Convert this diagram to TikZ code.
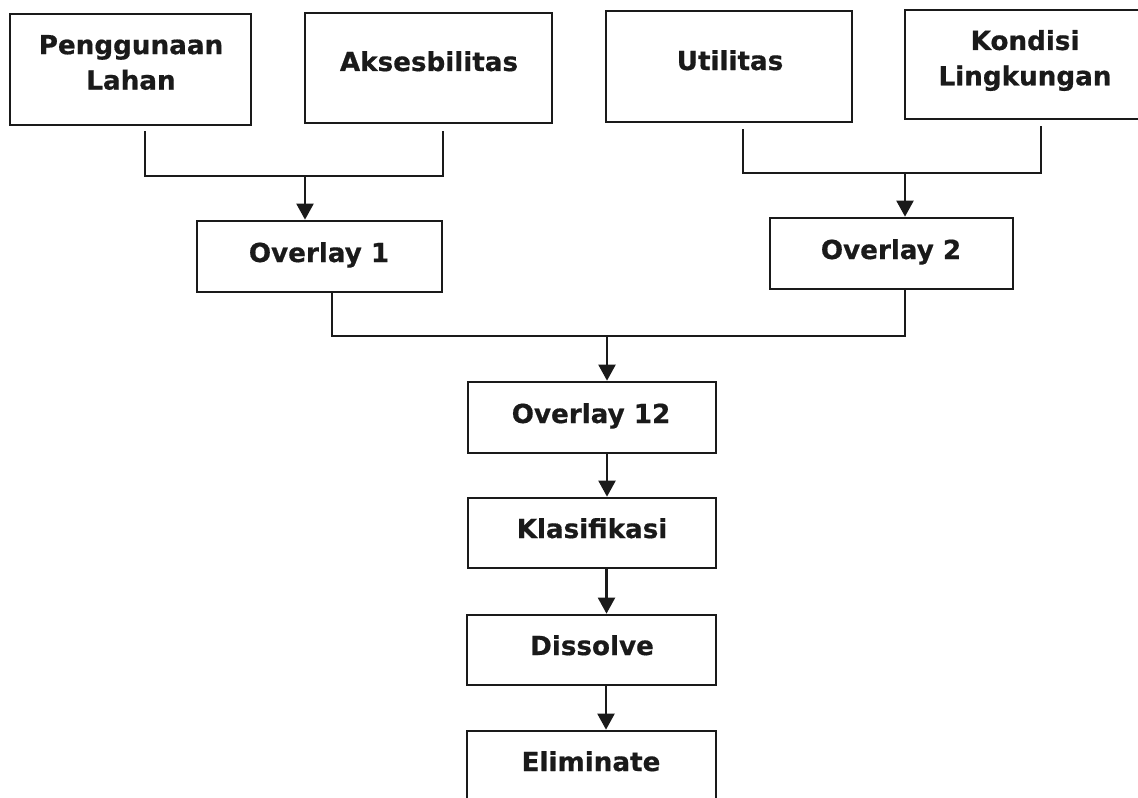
\documentclass[tikz,border=0pt]{standalone}
\usepackage{fontspec}
\setmainfont{DejaVu Sans}
\newfontfamily\lblfont{DejaVu Sans}[BoldFeatures={FakeBold=0.6}]
\usetikzlibrary{arrows.meta,calc}
\definecolor{ink}{HTML}{1A1A1A}
\begin{document}
\begin{tikzpicture}[x=0.5pt,y=-0.5pt,
  box/.style={draw=ink,line width=1.35pt,rectangle,inner sep=0pt},
  lbl/.style={inner sep=0pt,font=\lblfont\bfseries\fontsize{13.1}{17.7}\selectfont,text=ink,align=center},
  conn/.style={draw=ink,line width=1.1pt},
  arr/.style={conn,-{Triangle[length=8pt,width=8.5pt]}}]
\useasboundingbox (0,0) rectangle (1138,797);
\fill[white] (0,0) rectangle (1138,797);
\clip (0,0) rectangle (1138,797);
% boxes
\node[box,minimum width=120.5pt,minimum height=55.5pt] (pl) at (130.5,69.5) {};
\node[box,minimum width=123.5pt,minimum height=55pt] (ak) at (428.5,68) {};
\node[box,minimum width=123pt,minimum height=55.5pt] (ut) at (729,66.5) {};
\node[box,minimum width=126pt,minimum height=54.5pt] (kl) at (1031,64.5) {};
\node[box,minimum width=122.5pt,minimum height=35.5pt] (ov1) at (319.5,256.5) {};
\node[box,minimum width=121.5pt,minimum height=35.5pt] (ov2) at (891.5,253.5) {};
\node[box,minimum width=124pt,minimum height=35.5pt] (o12) at (592,417.5) {};
\node[box,minimum width=124pt,minimum height=35pt] (kf) at (592,533) {};
\node[box,minimum width=124.5pt,minimum height=35pt] (ds) at (591.5,650) {};
\node[box,minimum width=124.5pt,minimum height=35pt] (el) at (591.5,766) {};
% labels
\node[lbl] (plt) at (131,62.5) {Penggunaan\\Lahan};
\node[lbl,anchor=base] (akt) at (429,71) {Aksesbilitas};
\node[lbl,anchor=base] (utt) at (730,70) {Utilitas};
\node[lbl] (klt) at (1025,60.5) {Kondisi\\Lingkungan};
\node[lbl,anchor=base] (ov1t) at (319,262) {Overlay 1};
\node[lbl,anchor=base] (ov2t) at (891,259) {Overlay 2};
\node[lbl,anchor=base] (o12t) at (591,423) {Overlay 12};
\node[lbl,anchor=base] (kft) at (592,538) {Klasifikasi};
\node[lbl,anchor=base] (dst) at (592,655) {Dissolve};
\node[lbl,anchor=base] (elt) at (591,771) {Eliminate};
% connectors
\coordinate (j1) at (305,176);
\draw[conn] ($(pl.south)+(14.5,5)$) |- (j1) -| ($(ak.south)+(14.5,7)$);
\draw[arr] (j1) -- (j1 |- ov1.north);
\coordinate (j2) at (905,173);
\draw[conn] ($(ut.south)+(14,6)$) |- (j2) -| ($(kl.south)+(10,6)$);
\draw[arr] (j2) -- (j2 |- ov2.north);
\coordinate (j3) at (607,336);
\draw[conn] ($(ov1.south)+(12.5,0)$) |- (j3) -| ($(ov2.south)+(13.5,0)$);
\draw[arr] (j3) -- (j3 |- o12.north);
\coordinate (c1) at ($(o12.south)+(15,0)$);
\draw[arr] (c1) -- (c1 |- kf.north);
\coordinate (c2) at ($(kf.south)+(14.5,0)$);
\draw[arr] (c2) -- (c2 |- ds.north);
\coordinate (c3) at ($(ds.south)+(14.5,0)$);
\draw[arr] (c3) -- (c3 |- el.north);
\end{tikzpicture}
\end{document}
